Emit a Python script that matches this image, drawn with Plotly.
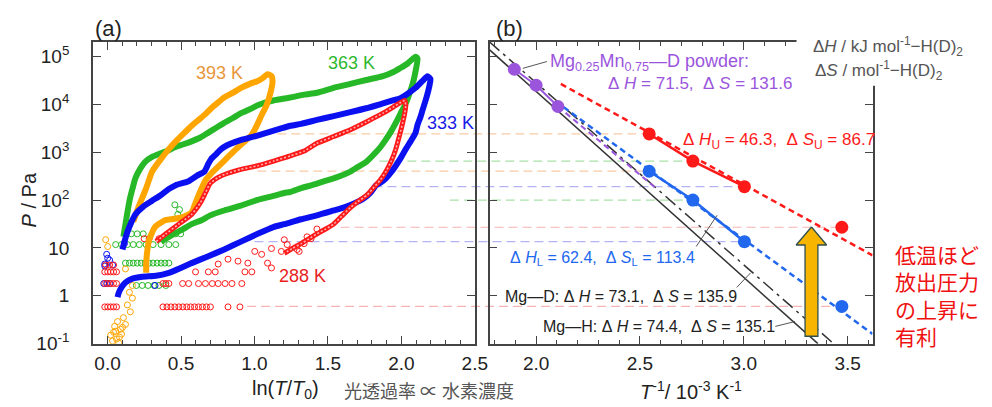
import numpy as np
import plotly.graph_objects as go

# ---------------- data ----------------
# panel (a): x = ln(T/T0), log10(P / Pa)
t393_x = [0.175, 0.209, 0.236, 0.263, 0.303, 0.364, 0.417, 0.471, 0.525, 0.572, 0.619, 0.666, 0.706, 0.753,
          0.794, 0.854, 0.908, 0.968, 1.022, 1.056, 1.089, 1.116, 1.123, 1.109, 1.082, 1.049, 1.015, 0.982,
          0.935, 0.888, 0.820, 0.753, 0.706, 0.666, 0.632, 0.599, 0.572, 0.505, 0.431, 0.390, 0.323, 0.283,
          0.270, 0.263, 0.263]
t393_lgp = [1.55, 1.843, 2.046, 2.249, 2.595, 2.860, 3.063, 3.246, 3.409, 3.551, 3.673, 3.795, 3.917, 4.039,
            4.141, 4.242, 4.344, 4.426, 4.487, 4.547, 4.629, 4.588, 4.466, 4.242, 3.978, 3.775, 3.551, 3.368,
            3.226, 3.104, 2.900, 2.697, 2.554, 2.412, 2.188, 1.944, 1.741, 1.639, 1.599, 1.578, 1.436, 1.172,
            0.927, 0.683, 0.480]

t363_x = [0.108, 0.122, 0.135, 0.149, 0.169, 0.189, 0.2225, 0.256, 0.303, 0.350, 0.404, 0.458, 0.518, 0.572,
          0.632, 0.686, 0.740, 0.794, 0.854, 0.908, 0.968, 1.022, 1.076, 1.129, 1.203, 1.244, 1.338, 1.425,
          1.539, 1.653, 1.761, 1.875, 1.942, 1.989, 2.043, 2.097,
          2.110, 2.090, 2.077, 2.050, 2.030, 1.996, 1.962, 1.929, 1.895, 1.862, 1.828, 1.761, 1.707, 1.653,
          1.559, 1.472, 1.391, 1.318, 1.244, 1.203, 1.129, 1.022, 0.908, 0.794, 0.6995, 0.639, 0.572, 0.505,
          0.464, 0.417, 0.364]
t363_lgp = [1.232, 1.497, 1.741, 1.985, 2.229, 2.453, 2.656, 2.798, 2.900, 2.961, 3.022, 3.104, 3.165, 3.226,
            3.307, 3.409, 3.510, 3.612, 3.714, 3.815, 3.897, 3.978, 4.039, 4.080, 4.120, 4.141, 4.202, 4.242,
            4.344, 4.426, 4.507, 4.588, 4.670, 4.751, 4.853, 4.995,
            4.954, 4.588, 4.426, 4.181, 4.019, 3.815, 3.612, 3.429, 3.266, 3.124, 3.002, 2.798, 2.697, 2.595,
            2.473, 2.392, 2.310, 2.249, 2.168, 2.148, 2.087, 2.005, 1.883, 1.782, 1.680, 1.578, 1.497, 1.375,
            1.314, 1.232, 1.131]

t333_x = [0.1015, 0.115, 0.135, 0.162, 0.189, 0.243, 0.303, 0.364, 0.417, 0.464, 0.552, 0.612, 0.659, 0.686,
          0.706, 0.740, 0.773, 0.814, 0.861, 0.921, 0.975, 1.042, 1.109, 1.176, 1.244, 1.318, 1.425, 1.539,
          1.653, 1.761, 1.875, 1.942, 1.989, 2.043, 2.097, 2.144, 2.177, 2.198,
          2.191, 2.171, 2.144, 2.130, 2.110, 2.097, 2.063, 2.030, 1.996, 1.962, 1.929, 1.895, 1.862, 1.828,
          1.788, 1.741, 1.674, 1.606, 1.539, 1.425, 1.318, 1.203, 1.129, 1.022, 0.908, 0.794, 0.686, 0.572,
          0.498, 0.417, 0.330, 0.236, 0.169, 0.122, 0.095, 0.075, 0.068]
t333_lgp = [0.968, 1.131, 1.334, 1.538, 1.700, 1.863, 1.985, 2.107, 2.229, 2.310, 2.392, 2.514, 2.595, 2.758,
            2.860, 2.961, 3.063, 3.144, 3.205, 3.266, 3.307, 3.368, 3.429, 3.490, 3.551, 3.592, 3.673, 3.754,
            3.836, 3.917, 4.019, 4.080, 4.120, 4.222, 4.344, 4.487, 4.588, 4.527,
            4.385, 4.141, 3.876, 3.734, 3.571, 3.409, 3.226, 3.063, 2.880, 2.717, 2.575, 2.453, 2.371, 2.310,
            2.148, 2.026, 1.924, 1.843, 1.782, 1.680, 1.599, 1.497, 1.436, 1.294, 1.131, 0.968, 0.826, 0.683,
            0.582, 0.480, 0.419, 0.399, 0.358, 0.277, 0.175, 0.053, -0.028]

t288_x = [0.330, 0.397, 0.4845, 0.572, 0.632, 0.666, 0.699, 0.753, 0.814, 0.901, 1.022, 1.136, 1.244, 1.338,
          1.425, 1.539, 1.653, 1.761, 1.875, 1.942, 1.996, 2.023,
          2.030, 2.023, 2.009, 1.989, 1.962, 1.929, 1.895, 1.855, 1.808, 1.768, 1.741, 1.694, 1.653, 1.593,
          1.539, 1.485, 1.425, 1.372, 1.318, 1.257, 1.203]
t288_lgp = [1.131, 1.294, 1.497, 1.700, 1.944, 2.148, 2.351, 2.473, 2.554, 2.636, 2.717, 2.819, 2.921, 3.022,
            3.185, 3.327, 3.470, 3.632, 3.815, 3.937, 4.039, 4.080,
            3.978, 3.815, 3.612, 3.368, 3.063, 2.798, 2.595, 2.412, 2.249, 2.107, 2.046, 1.944, 1.843, 1.660,
            1.497, 1.395, 1.294, 1.192, 1.090, 0.988, 0.887]

# sparse low-pressure open circles
sc288_x = [-0.019, 0.001, 0.021, 0.041, 0.061, 0.377, 0.404, 0.431, 0.458, 0.485, 0.512, 0.539, 0.565, 0.592,
           0.619, 0.646, 0.673, 0.700, 0.820, 0.901,
           -0.019, 0.001, 0.021, 0.041, 0.061, 0.377, 0.397, 0.417, 0.511, 0.552, 0.619, 0.666, 0.713, 0.753,
           0.800, 0.847, 0.914,
           -0.019, 0.001, 0.021, 0.041, 0.061, 0.599, 0.686, 0.733, 0.935, 0.982,
           1.203, 1.116, 1.183, 1.049, 1.002, 0.955, 0.888, 0.820, 0.753, 1.089, 1.116, 1.223, 1.338, 1.385,
           1.291, 1.425, 1.358, 1.304, 0.249, 0.283, 0.350, -0.013, 0.014, 0.041]
sc288_lgp = [-0.232, -0.232, -0.232, -0.232, -0.232, -0.232, -0.232, -0.232, -0.232, -0.232, -0.232, -0.232,
             -0.232, -0.232, -0.232, -0.232, -0.232, -0.232, -0.232, -0.232,
             0.256, 0.256, 0.256, 0.256, 0.256, 0.256, 0.256, 0.256, 0.256, 0.256, 0.256, 0.256, 0.256, 0.256,
             0.256, 0.256, 0.256,
             0.500, 0.500, 0.500, 0.500, 0.500, 0.500, 0.500, 0.500, 0.500, 0.500,
             1.171, 0.988, 0.927, 0.866, 0.927, 0.683, 0.724, 0.765, 0.663, 0.683, 0.582, 1.070, 1.090, 1.192,
             0.968, 1.395, 1.232, 0.927, 1.192, 1.192, 1.192, 0.643, 0.643, 0.643]

sc333_x = [-0.006, 0.014, -0.019, -0.026, -0.006, 0.014, 0.323, 0.115, -0.019, 0.001, 0.034]
sc333_lgp = [0.866, 0.745, 0.663, 0.256, 0.256, 0.256, 0.216, 1.090, 0.622, 0.785, 0.643]

sc363_x = [0.196, 0.236, 0.276, 0.317, 0.350, 0.397,
           0.122, 0.149, 0.175, 0.202, 0.229, 0.256, 0.283, 0.310, 0.337, 0.364, 0.390, 0.417,
           0.055, 0.095, 0.135, 0.175, 0.216, 0.263, 0.310, 0.364, 0.417, 0.464,
           0.122, 0.162, 0.202, 0.243, 0.431, 0.464, 0.498,
           0.458, 0.478, 0.510, 0.490]
sc363_lgp = [0.216, 0.216, 0.216, 0.216, 0.216, 0.216,
             0.683, 0.683, 0.683, 0.683, 0.683, 0.683, 0.683, 0.683, 0.683, 0.683, 0.683, 0.683,
             1.070, 1.070, 1.070, 1.070, 1.070, 1.070, 1.070, 1.070, 1.070, 1.070,
             1.294, 1.294, 1.294, 1.294, 1.294, 1.294, 1.294,
             1.90, 1.70, 1.60, 1.80]

sc393_x = [-0.013, 0.001, 0.122, 0.169, 0.169, 0.155, 0.122, 0.102, 0.081, 0.055, 0.034, 0.021, 0.048, 0.068,
           0.088, 0.108, 0.135, 0.149, 0.061, 0.041, 0.075, 0.095]
sc393_lgp = [1.172, 1.029, 0.561, 0.216, -0.049, -0.334, -0.598, -0.659, -0.862, -0.740, -0.944, -0.822,
             -0.638, -0.537, -0.700, -0.456, -0.191, 0.073, -0.903, -0.761, -0.98, -0.80]

# panel (b): T^-1 / 10^-3 K^-1 and P / Pa
inv_T = [1000 / 393, 1000 / 363, 1000 / 333, 1000 / 288]
upper_p = [2400, 650, 190, 27]          # red points (upper plateau)
lower_p = [400, 100, 13.5, 0.6]         # blue points (lower plateau)
mgmn_x = [1.895, 2.0, 2.105]
mgmn_p = [5.4e4, 2.5e4, 9.0e3]
mgmn_fit_x = [2.105, 2.57]
mgmn_fit_p = [9.0e3, 188]
upper_fit_x = [2.119, 3.62]
upper_fit_p = [2.66e4, 7.0]
lower_fit_x = [2.133, 3.62]
lower_fit_p = [8.7e3, 0.16]
mgh_x = [1.776, 3.357]
mgh_p = [1.37e5, 0.1]
mgd_x = [1.776, 3.433]
mgd_p = [2.0e5, 0.1]
# start (in ln(T/T0)) of the pale guide lines for each temperature
guide_upper_start = [1.156, 1.85, 1.81, 1.586]
guide_lower_start = [1.02, 2.33, 1.0, 0.95]
# arrow (decoration) in panel (b) coordinates
arrow_x = [3.326, 3.399, 3.357, 3.357, 3.295, 3.295, 3.252, 3.326]
arrow_p = [27.3, 11.5, 11.5, 0.143, 0.143, 11.5, 11.5, 27.3]

# ---------------- layout geometry ----------------
W, H = 992, 407
XA_DOM = [86 / W, 473 / W]
XA_RNG = [-0.1, 2.5]
XB_DOM = [488 / W, 876 / W]
XB_RNG = [1.776, 3.62]
Y_DOM = [1 - 345 / H, 1 - 35 / H]
Y_RNG = [-1.0, 5.3]


def px(v):
    return v / W


def py(v):
    return 1 - v / H


def xa2paper(v):
    return XA_DOM[0] + (v - XA_RNG[0]) / (XA_RNG[1] - XA_RNG[0]) * (XA_DOM[1] - XA_DOM[0])


def xb2paper(v):
    return XB_DOM[0] + (v - XB_RNG[0]) / (XB_RNG[1] - XB_RNG[0]) * (XB_DOM[1] - XB_DOM[0])


def p2paper(p):
    return Y_DOM[0] + (np.log10(p) - Y_RNG[0]) / (Y_RNG[1] - Y_RNG[0]) * (Y_DOM[1] - Y_DOM[0])


def P(lg):
    return (10.0 ** np.asarray(lg, dtype=float)).tolist()


FONT = "Liberation Sans, Arial, sans-serif"
JP = "Noto Sans CJK JP, sans-serif"
AX = "#444444"

C393, C363, C333, C288 = "#FFA500", "#26B826", "#0A10F0", "#FF1A1A"
PALE = {"393": "#F8CBA6", "363": "#A9E2A9", "333": "#B4B4F4", "288": "#F8B4B4"}
RED_B, BLUE_B, PURPLE = "#FF1A1A", "#2268EE", "#9B55DD"

fig = go.Figure()

# ---------------- panel (a) ----------------
for sx, sl, col in [(sc363_x, sc363_lgp, C363), (sc393_x, sc393_lgp, C393),
                    (sc333_x, sc333_lgp, C333), (sc288_x, sc288_lgp, C288)]:
    fig.add_trace(go.Scatter(x=sx, y=P(sl), mode="markers", xaxis="x", yaxis="y",
                             marker=dict(symbol="circle-open", size=6, color=col, line=dict(width=1)),
                             showlegend=False, hoverinfo="skip"))

for lx, ll, col in [(t363_x, t363_lgp, C363), (t393_x, t393_lgp, C393), (t333_x, t333_lgp, C333)]:
    fig.add_trace(go.Scatter(x=lx, y=P(ll), mode="lines", xaxis="x", yaxis="y",
                             line=dict(color=col, width=6, shape="spline", smoothing=0.5),
                             showlegend=False, hoverinfo="skip"))
fig.add_trace(go.Scatter(x=t288_x, y=P(t288_lgp), mode="lines", xaxis="x", yaxis="y",
                         line=dict(color=C288, width=5, shape="spline", smoothing=0.5),
                         showlegend=False, hoverinfo="skip"))
fig.add_trace(go.Scatter(x=t288_x, y=P(t288_lgp), mode="lines", xaxis="x", yaxis="y",
                         line=dict(color="rgba(255,255,255,0.65)", width=1.6, dash="2px,2px",
                                   shape="spline", smoothing=0.5),
                         showlegend=False, hoverinfo="skip"))

# ---------------- panel (b) ----------------
fig.add_trace(go.Scatter(x=mgh_x, y=mgh_p, mode="lines", xaxis="x2", yaxis="y2",
                         line=dict(color="#333333", width=1.5), showlegend=False, hoverinfo="skip"))
fig.add_trace(go.Scatter(x=mgd_x, y=mgd_p, mode="lines", xaxis="x2", yaxis="y2",
                         line=dict(color="#333333", width=1.5, dash="13px,5px,3px,5px"),
                         showlegend=False, hoverinfo="skip"))
fig.add_trace(go.Scatter(x=mgmn_fit_x, y=mgmn_fit_p, mode="lines", xaxis="x2", yaxis="y2",
                         line=dict(color=PURPLE, width=2, dash="6px,4px"), showlegend=False, hoverinfo="skip"))
fig.add_trace(go.Scatter(x=lower_fit_x, y=lower_fit_p, mode="lines", xaxis="x2", yaxis="y2",
                         line=dict(color=BLUE_B, width=2.5, dash="6px,4px"), showlegend=False, hoverinfo="skip"))
fig.add_trace(go.Scatter(x=upper_fit_x, y=upper_fit_p, mode="lines", xaxis="x2", yaxis="y2",
                         line=dict(color=RED_B, width=2.5, dash="6px,4px"), showlegend=False, hoverinfo="skip"))
fig.add_trace(go.Scatter(x=mgmn_x, y=mgmn_p, mode="lines+markers", xaxis="x2", yaxis="y2",
                         line=dict(color=PURPLE, width=2), marker=dict(size=13, color=PURPLE),
                         showlegend=False, hoverinfo="skip"))
fig.add_trace(go.Scatter(x=inv_T[:3], y=lower_p[:3], mode="lines+markers", xaxis="x2", yaxis="y2",
                         line=dict(color=BLUE_B, width=2.5), marker=dict(size=13, color=BLUE_B),
                         showlegend=False, hoverinfo="skip"))
fig.add_trace(go.Scatter(x=inv_T[3:], y=lower_p[3:], mode="markers", xaxis="x2", yaxis="y2",
                         marker=dict(size=13, color=BLUE_B), showlegend=False, hoverinfo="skip"))
fig.add_trace(go.Scatter(x=inv_T[:3], y=upper_p[:3], mode="lines+markers", xaxis="x2", yaxis="y2",
                         line=dict(color=RED_B, width=2.5), marker=dict(size=13, color=RED_B),
                         showlegend=False, hoverinfo="skip"))
fig.add_trace(go.Scatter(x=inv_T[3:], y=upper_p[3:], mode="markers", xaxis="x2", yaxis="y2",
                         marker=dict(size=13, color=RED_B), showlegend=False, hoverinfo="skip"))
fig.add_trace(go.Scatter(x=arrow_x, y=arrow_p, mode="lines", fill="toself", fillcolor="#F7B500",
                         xaxis="x2", yaxis="y2", line=dict(color="#2F4F4F", width=1.3),
                         showlegend=False, hoverinfo="skip"))

# ---------------- pale guide lines (shapes in paper coords) ----------------
shapes = []
temps = ["393", "363", "333", "288"]
for i, t in enumerate(temps):
    for p, x0 in [(upper_p[i], guide_upper_start[i]), (lower_p[i], guide_lower_start[i])]:
        yy = p2paper(p)
        shapes.append(dict(type="line", xref="paper", yref="paper", layer="below",
                           x0=xa2paper(x0), x1=xb2paper(inv_T[i]), y0=yy, y1=yy,
                           line=dict(color=PALE[t], width=1.2, dash="9px,5px")))

# leader lines (panel b coordinates)
leaders = [((2.052, 10 ** 4.893), (1.936, 10 ** 4.751)),
           ((2.771, 10 ** 1.03), (2.871, 10 ** 1.68)),
           ((2.966, 10 ** 0.175), (3.033, 10 ** 0.48)),
           ((3.152, 10 ** -0.639), (3.247, 10 ** -0.537))]
for (xa, pa), (xb, pb) in leaders:
    shapes.append(dict(type="line", xref="paper", yref="paper", layer="above",
                       x0=xb2paper(xa), y0=p2paper(pa), x1=xb2paper(xb), y1=p2paper(pb),
                       line=dict(color="#555555", width=1)))

# white patch that interrupts the frame of panel (b) at the upper right
shapes.append(dict(type="rect", xref="paper", yref="paper", layer="above",
                   x0=px(799), x1=px(992), y0=py(80), y1=py(20),
                   fillcolor="white", line=dict(width=0)))

# ---------------- annotations ----------------
anns = []


def ann(text, x, y, size=17, color="#222222", xanchor="center", family=FONT, angle=0, align="left"):
    anns.append(dict(text=text, x=px(x), y=py(y), xref="paper", yref="paper", showarrow=False,
                     xanchor=xanchor, yanchor="middle", textangle=angle, align=align,
                     font=dict(family=family, size=size, color=color)))


NB = "\u00a0"
ann("(a)", 86, 21, size=22, xanchor="left")
ann("(b)", 492, 21, size=22, xanchor="left")
ann("393 K", 214, 67, size=18, color="#E8963A")
ann("363 K", 348, 57, size=18, color="#2DB82D")
ann("333 K", 448, 118, size=18, color="#1A1AE6")
ann("288 K", 298, 275, size=18, color="#E81E1E")
ann("<i>P</i> / Pa", 21, 197, size=20, angle=-90)
ann("ln(<i>T</i>/<i>T</i><sub>0</sub>)", 281, 392, size=20)
ann("光透過率 ∝ 水素濃度", 338, 393, size=18, color="#555555", xanchor="left", family=JP)
ann("<i>T</i><sup>-1</sup>/ 10<sup>-3</sup> K<sup>-1</sup>", 692, 393, size=20)
ann("Δ<i>H</i> / kJ mol<sup>-1</sup>−H(D)<sub>2</sub>", 814, 40, size=17, color="#555555", xanchor="left")
ann("Δ<i>S</i> / mol<sup>-1</sup>−H(D)<sub>2</sub>", 816, 64, size=17, color="#555555", xanchor="left")
ann("Mg<sub>0.25</sub>Mn<sub>0.75</sub>—D powder:", 547, 56, size=18, color=PURPLE, xanchor="left")
ann("Δ" + NB + "<i>H</i> = 71.5," + NB + NB + "Δ" + NB + "<i>S</i> = 131.6", 606, 78, size=17,
    color=PURPLE, xanchor="left")
ann("Δ" + NB + "<i>H</i><sub>U</sub> = 46.3," + NB + NB + "Δ" + NB + "<i>S</i><sub>U</sub> = 86.7", 682, 137,
    size=17, color=RED_B, xanchor="left")
ann("Δ" + NB + "<i>H</i><sub>L</sub> = 62.4," + NB + NB + "Δ" + NB + "<i>S</i><sub>L</sub> = 113.4", 507, 257,
    size=16, color=BLUE_B, xanchor="left")
ann("Mg—D:" + NB + "Δ" + NB + "<i>H</i> = 73.1," + NB + NB + "Δ" + NB + "<i>S</i> = 135.9", 502, 297,
    size=16, color="#222222", xanchor="left")
ann("Mg—H:" + NB + "Δ" + NB + "<i>H</i> = 74.4," + NB + NB + "Δ" + NB + "<i>S</i> = 135.1", 540, 327,
    size=16, color="#222222", xanchor="left")
ann("低温ほど<br>放出圧力<br>の上昇に<br>有利", 897, 295, size=21, color="#F01010", xanchor="left",
    family=JP)

ytv = [0.1, 1, 10, 100, 1e3, 1e4, 1e5]
ytt = ["10<sup>-1</sup>", "1", "10", "10<sup>2</sup>", "10<sup>3</sup>", "10<sup>4</sup>", "10<sup>5</sup>"]

common_x = dict(showgrid=False, zeroline=False, showline=True, linecolor=AX, linewidth=1.5, mirror="ticks",
                ticks="inside", ticklen=8, tickwidth=1.3, tickcolor=AX, tickmode="linear", tick0=0, dtick=0.5,
                tickformat=".1f", tickfont=dict(family=FONT, size=19, color="#222222"),
                minor=dict(ticks="inside", ticklen=4, tickwidth=1.1, tickcolor=AX, dtick=0.1, tick0=0,
                           showgrid=False),
                ticklabelstandoff=2)
common_y = dict(type="log", range=Y_RNG, domain=Y_DOM, showgrid=False, zeroline=False, showline=True,
                linecolor=AX, linewidth=1.5, mirror="ticks", ticks="inside", ticklen=8, tickwidth=1.3,
                tickcolor=AX, tickmode="array", tickvals=ytv, ticktext=ytt)

fig.update_layout(
    width=W, height=H, margin=dict(l=0, r=0, t=0, b=0),
    paper_bgcolor="white", plot_bgcolor="rgba(0,0,0,0)",
    showlegend=False,
    xaxis=dict(domain=XA_DOM, range=XA_RNG, anchor="y", **common_x),
    xaxis2=dict(domain=XB_DOM, range=XB_RNG, anchor="y2", **common_x),
    yaxis=dict(anchor="x", tickfont=dict(family=FONT, size=19, color="#222222"), ticklabelstandoff=18,
               **common_y),
    yaxis2=dict(anchor="x2", showticklabels=False, **common_y),
    shapes=shapes, annotations=anns,
)

fig.write_html("out.html")
